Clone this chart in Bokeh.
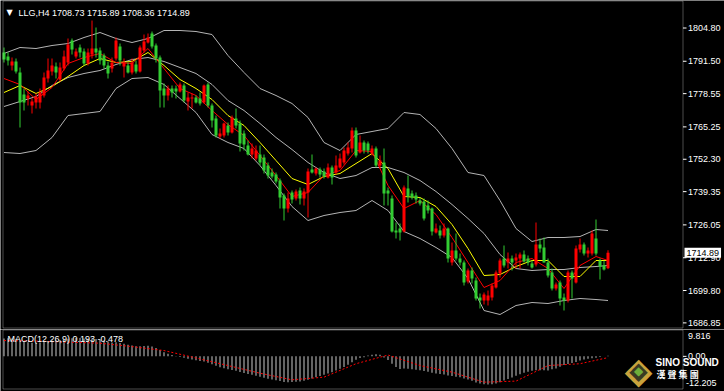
from bokeh.plotting import figure
from bokeh.layouts import column
from bokeh.models import Label, ColumnDataSource, Range1d, BoxAnnotation
from bokeh.embed import file_html
from bokeh.resources import INLINE
from bokeh.core.properties import value

# ---------------- data ----------------
symbol = "LLG,H4"
last_ohlc = ["1708.73", "1715.89", "1708.36", "1714.89"]

opens = [1795.0, 1793.4, 1789.8, 1791.4, 1787.0, 1778.2, 1776.6, 1773.8, 1775.0, 1775.0,
         1777.8, 1784.6, 1787.4, 1789.4, 1784.2, 1788.6, 1791.0, 1799.8, 1793.4, 1797.0,
         1795.4, 1790.6, 1794.2, 1796.6, 1795.8, 1793.8, 1789.8, 1788.6, 1792.6, 1797.4,
         1789.4, 1789.8, 1787.0, 1790.2, 1787.4, 1795.8, 1799.0, 1802.6, 1797.8, 1793.0,
         1780.6, 1777.8, 1780.6, 1780.6, 1779.4, 1781.8, 1775.4, 1776.6, 1777.0, 1776.6,
         1775.0, 1782.2, 1773.8, 1768.6, 1761.4, 1761.8, 1765.8, 1763.0, 1768.6, 1766.6,
         1762.6, 1757.8, 1754.2, 1752.6, 1754.2, 1753.0, 1749.8, 1747.0, 1746.2, 1743.8,
         1737.8, 1732.6, 1739.0, 1736.6, 1739.8, 1736.6, 1739.0, 1748.2, 1746.6, 1748.2,
         1747.4, 1745.0, 1749.0, 1747.0, 1749.0, 1751.0, 1754.6, 1756.6, 1763.8, 1755.0,
         1759.0, 1758.6, 1754.6, 1756.6, 1749.8, 1751.0, 1739.8, 1736.6, 1723.8, 1724.6,
         1723.4, 1740.6, 1738.6, 1737.8, 1735.8, 1735.4, 1733.8, 1732.6, 1723.0, 1723.8,
         1721.8, 1724.6, 1711.0, 1715.8, 1712.6, 1711.0, 1703.4, 1707.8, 1703.8, 1697.0,
         1695.8, 1695.8, 1697.0, 1701.0, 1706.6, 1712.6, 1711.0, 1712.6, 1711.8, 1712.6,
         1714.2, 1712.6, 1710.6, 1710.2, 1718.2, 1717.0, 1711.0, 1707.0, 1700.6, 1703.0,
         1697.0, 1695.8, 1707.0, 1703.0, 1716.2, 1718.2, 1714.6, 1714.6, 1720.6, 1711.8,
         1709.8, 1708.73]
highs = [1797.0, 1795.0, 1793.0, 1792.6, 1789.0, 1780.6, 1779.4, 1776.6, 1778.6, 1780.6,
         1787.0, 1792.6, 1792.6, 1791.0, 1791.0, 1795.8, 1800.6, 1800.6, 1796.6, 1798.2,
         1796.6, 1796.6, 1807.8, 1805.0, 1797.0, 1794.6, 1791.4, 1793.0, 1801.0, 1798.6,
         1792.6, 1791.0, 1792.6, 1791.8, 1797.8, 1802.2, 1802.6, 1803.4, 1798.6, 1793.8,
         1782.6, 1781.8, 1781.8, 1781.8, 1783.0, 1782.6, 1779.0, 1778.6, 1777.8, 1779.0,
         1782.2, 1783.0, 1774.6, 1769.8, 1764.6, 1767.0, 1767.0, 1769.8, 1772.6, 1767.8,
         1763.8, 1759.8, 1758.6, 1757.8, 1757.8, 1754.2, 1751.0, 1748.6, 1747.0, 1744.6,
         1738.6, 1739.0, 1739.8, 1740.2, 1741.0, 1740.6, 1748.6, 1754.2, 1749.0, 1749.0,
         1748.6, 1750.6, 1749.8, 1753.8, 1754.6, 1757.0, 1759.0, 1765.0, 1765.0, 1761.8,
         1759.8, 1759.4, 1757.8, 1757.4, 1753.8, 1756.6, 1741.0, 1737.8, 1727.0, 1726.6,
         1741.8, 1745.8, 1739.8, 1739.0, 1737.0, 1736.6, 1735.8, 1733.0, 1726.6, 1725.8,
         1726.6, 1725.0, 1719.0, 1722.6, 1714.6, 1711.8, 1708.6, 1709.0, 1705.0, 1698.6,
         1699.0, 1699.8, 1702.6, 1707.8, 1712.6, 1717.8, 1715.0, 1713.8, 1714.6, 1715.0,
         1715.8, 1713.8, 1711.8, 1727.0, 1720.6, 1721.0, 1712.6, 1708.6, 1703.0, 1703.8,
         1698.6, 1707.8, 1707.8, 1717.8, 1720.6, 1719.0, 1717.0, 1723.8, 1728.2, 1712.6,
         1711.8, 1715.89]
lows = [1791.0, 1789.8, 1787.8, 1786.6, 1765.0, 1771.8, 1773.8, 1770.6, 1772.6, 1772.6,
        1777.0, 1783.0, 1785.8, 1784.6, 1783.4, 1787.8, 1789.8, 1794.2, 1792.6, 1793.0,
        1789.8, 1789.8, 1792.6, 1793.0, 1790.2, 1788.6, 1784.6, 1787.0, 1791.8, 1789.8,
        1785.0, 1786.6, 1786.2, 1786.6, 1787.0, 1795.0, 1798.6, 1796.6, 1791.0, 1773.0,
        1773.0, 1775.8, 1777.0, 1776.6, 1779.0, 1775.0, 1771.8, 1772.6, 1774.6, 1773.8,
        1774.6, 1773.0, 1765.0, 1761.0, 1760.6, 1761.0, 1761.8, 1762.6, 1764.6, 1755.4,
        1755.8, 1753.8, 1752.6, 1751.8, 1749.8, 1746.6, 1744.6, 1744.6, 1742.6, 1732.6,
        1727.8, 1731.0, 1734.6, 1735.8, 1734.2, 1733.8, 1729.0, 1746.6, 1745.8, 1745.0,
        1744.6, 1744.6, 1742.2, 1746.2, 1748.6, 1750.2, 1753.8, 1755.0, 1753.0, 1754.6,
        1754.6, 1754.6, 1753.8, 1749.0, 1748.6, 1733.8, 1733.8, 1723.0, 1720.6, 1719.8,
        1723.0, 1735.0, 1736.2, 1734.6, 1733.8, 1727.8, 1730.6, 1721.8, 1722.6, 1720.6,
        1721.0, 1711.0, 1709.8, 1711.8, 1709.8, 1701.8, 1702.6, 1702.6, 1695.8, 1692.6,
        1694.2, 1693.8, 1695.8, 1700.6, 1705.0, 1709.0, 1708.6, 1707.8, 1708.6, 1708.6,
        1711.0, 1709.8, 1708.6, 1709.4, 1715.0, 1711.0, 1705.0, 1699.8, 1699.8, 1693.8,
        1691.8, 1695.0, 1696.6, 1702.6, 1715.0, 1713.8, 1713.0, 1713.8, 1713.8, 1704.2,
        1707.8, 1708.36]
closes = [1792.2, 1791.8, 1791.4, 1787.4, 1775.0, 1775.0, 1777.8, 1775.4, 1777.4, 1779.0,
          1785.0, 1787.8, 1789.8, 1787.0, 1789.0, 1793.4, 1798.2, 1796.2, 1795.4, 1795.0,
          1790.6, 1795.0, 1796.6, 1795.0, 1791.8, 1789.8, 1786.6, 1791.0, 1799.8, 1791.8,
          1791.0, 1787.0, 1791.0, 1787.4, 1797.0, 1799.4, 1801.0, 1797.4, 1792.6, 1779.8,
          1777.8, 1780.6, 1779.0, 1779.4, 1782.2, 1775.8, 1777.0, 1777.0, 1775.0, 1774.6,
          1781.8, 1773.8, 1767.8, 1761.8, 1762.6, 1766.6, 1763.0, 1769.0, 1765.8, 1758.6,
          1758.2, 1754.2, 1756.6, 1755.8, 1751.0, 1747.8, 1745.8, 1745.4, 1743.4, 1737.0,
          1732.6, 1736.6, 1736.2, 1739.4, 1736.6, 1739.4, 1747.4, 1747.0, 1748.6, 1746.2,
          1745.4, 1749.0, 1745.0, 1749.8, 1752.6, 1755.8, 1757.0, 1763.8, 1753.8, 1759.0,
          1755.8, 1755.8, 1756.6, 1749.8, 1751.8, 1738.6, 1738.6, 1723.4, 1723.0, 1723.0,
          1741.0, 1737.4, 1737.0, 1736.2, 1734.6, 1728.6, 1731.8, 1723.4, 1724.6, 1721.8,
          1724.6, 1712.6, 1715.8, 1712.6, 1711.0, 1703.0, 1707.8, 1704.6, 1696.6, 1695.8,
          1698.2, 1697.8, 1701.8, 1707.0, 1711.8, 1709.8, 1712.6, 1711.0, 1713.0, 1714.2,
          1711.4, 1711.0, 1709.0, 1718.2, 1716.6, 1711.0, 1705.8, 1700.6, 1702.2, 1696.6,
          1695.8, 1707.0, 1704.6, 1716.6, 1718.2, 1714.6, 1715.8, 1722.6, 1714.6, 1709.4,
          1708.2, 1714.89]

# indicator lines, read at every 4th bar (and the last bar)
ind_idx = [0, 4, 8, 12, 16, 20, 24, 28, 32, 36, 40, 44, 48, 52, 56, 60, 64, 68, 72, 76,
           80, 84, 88, 92, 96, 100, 104, 108, 112, 116, 120, 124, 128, 132, 136, 140, 144, 148, 151]
bb_upper = [1794.6, 1797.0, 1796.6, 1797.8, 1798.6, 1801.0, 1803.0, 1800.6, 1799.0, 1800.6,
            1803.8, 1803.8, 1803.4, 1802.2, 1793.8, 1787.0, 1780.6, 1777.8, 1774.6, 1769.0,
            1759.0, 1755.8, 1762.2, 1763.4, 1764.6, 1771.0, 1770.2, 1764.6, 1756.6, 1747.0,
            1745.8, 1735.8, 1724.6, 1719.4, 1721.0, 1721.0, 1721.4, 1724.2, 1723.8]
bb_middle = [1773.4, 1775.4, 1777.4, 1781.8, 1785.0, 1786.6, 1787.8, 1790.2, 1792.2, 1793.0,
             1791.4, 1789.0, 1786.6, 1782.2, 1775.8, 1771.8, 1766.6, 1761.0, 1756.2, 1751.0,
             1747.0, 1744.6, 1745.8, 1749.0, 1749.0, 1747.0, 1743.8, 1739.4, 1734.2, 1728.6,
             1722.6, 1714.2, 1708.6, 1707.8, 1708.2, 1708.2, 1709.0, 1709.4, 1709.8]
bb_lower = [1755.0, 1754.6, 1755.8, 1761.0, 1769.8, 1770.6, 1771.4, 1780.6, 1784.6, 1785.0,
            1782.2, 1776.6, 1771.0, 1762.2, 1759.0, 1756.6, 1749.8, 1741.8, 1733.4, 1727.8,
            1729.8, 1731.0, 1731.8, 1735.8, 1731.8, 1723.4, 1720.6, 1717.0, 1713.0, 1704.6,
            1691.8, 1690.2, 1693.8, 1695.0, 1694.6, 1695.8, 1696.6, 1696.2, 1695.8]
ma_yellow = [1779.0, 1781.8, 1778.6, 1781.4, 1785.4, 1789.8, 1792.6, 1791.0, 1791.4, 1795.0,
             1789.8, 1784.2, 1780.6, 1776.2, 1769.8, 1765.8, 1759.0, 1751.8, 1744.6, 1742.2,
             1745.4, 1746.6, 1750.6, 1754.6, 1748.6, 1737.4, 1737.0, 1733.4, 1726.2, 1716.6,
             1705.8, 1706.2, 1709.4, 1711.8, 1711.8, 1705.4, 1705.4, 1711.8, 1711.8]
ma_red = [1784.6, 1782.2, 1776.2, 1781.0, 1790.6, 1793.0, 1794.6, 1791.0, 1790.6, 1796.6,
          1788.6, 1780.6, 1777.8, 1771.8, 1766.2, 1761.8, 1753.8, 1745.8, 1737.4, 1739.0,
          1745.8, 1747.8, 1755.8, 1755.4, 1741.8, 1732.6, 1735.8, 1730.2, 1721.0, 1711.0,
          1701.0, 1703.8, 1711.0, 1712.6, 1708.6, 1700.6, 1709.8, 1713.4, 1711.8]

price_ticks = [1686.85, 1699.80, 1712.90, 1726.05, 1739.35, 1752.30, 1765.25, 1778.55, 1791.50, 1804.80]

macd_main = [6.8, 6.9, 6.8, 6.6, 6.0, 5.6, 5.4, 5.2, 5.2, 5.3,
             5.5, 5.8, 6.0, 6.1, 6.2, 6.4, 6.7, 6.9, 7.0, 7.0,
             6.8, 6.7, 6.7, 6.6, 6.3, 6.0, 5.6, 5.3, 5.4, 5.1,
             4.8, 4.4, 4.1, 3.8, 3.8, 3.9, 4.0, 3.7, 3.2, 2.4,
             1.6, 1.0, 0.5, 0.1, -0.2, -0.5, -0.9, -1.2, -1.5, -1.8,
             -2.0, -2.4, -3.0, -3.6, -4.1, -4.5, -4.9, -5.2, -5.5, -5.9,
             -6.3, -6.7, -7.0, -7.4, -7.7, -8.1, -8.5, -8.8, -9.1, -9.4,
             -9.7, -9.8, -9.7, -9.6, -9.5, -9.3, -8.9, -8.4, -7.9, -7.5,
             -7.0, -6.5, -6.0, -5.4, -4.7, -4.0, -3.2, -2.2, -1.3, -0.6,
             -0.3, 0.3, 0.6, 0.8, 0.6, -0.4, -1.4, -2.8, -4.0, -4.8,
             -4.6, -4.7, -4.9, -5.1, -5.3, -5.6, -5.8, -6.2, -6.5, -6.7,
             -6.9, -7.3, -7.5, -7.7, -7.9, -8.4, -8.8, -9.3, -9.9, -10.3,
             -10.6, -10.7, -10.6, -10.3, -9.8, -9.2, -8.6, -8.0, -7.4, -6.8,
             -6.2, -5.8, -5.5, -5.3, -5.3, -5.3, -5.4, -4.9, -4.6, -3.9,
             -3.3, -2.9, -2.5, -2.1, -1.6, -1.2, -0.9, -0.7, -0.5, -0.2,
             0.0, 0.193]
signal_idx = [0, 8, 16, 24, 32, 40, 48, 56, 64, 72, 80, 88, 96, 104, 112, 120, 128, 136, 144, 151]
macd_signal = [6.0, 5.8, 5.4, 5.0, 3.7, 2.2, -0.6, -3.5, -6.4, -8.9,
               -7.9, -2.8, 0.5, -3.5, -6.0, -9.8, -9.4, -3.5, -2.8, -0.478]
macd_ticks = [9.816, 0.0, -12.205]
macd_label = "MACD(12,26,9) 0.193 -0.478"

# ---------------- geometry ----------------
W, H_MAIN, H_MACD = 724, 329, 62
PX = 4.0                      # pixels per bar
X0 = -0.875
X1 = X0 + W / PX
PPU = 0.4                     # price units per pixel
Y_TOP = 1815.8
Y_BOT = Y_TOP - H_MAIN * PPU
M_PPU = (macd_ticks[0] - macd_ticks[2]) / 58.0
M_TOP = macd_ticks[0] + 1 * M_PPU
M_BOT = M_TOP - H_MACD * M_PPU
FONT = "Liberation Sans"
FS = "9px"
UP, DOWN = "#ff0000", "#32cd32"


def xd(px):
    return X0 + px / PX


def yd(py):
    return Y_TOP - py * PPU


def md(py):
    return M_TOP - py * M_PPU


AX = 682.5   # right edge of the chart panels (pixel)

n = len(closes)
idx = list(range(n))
src = ColumnDataSource(dict(
    x=idx, h=highs, l=lows,
    top=[max(o, c) for o, c in zip(opens, closes)],
    bot=[min(o, c) for o, c in zip(opens, closes)],
    color=[UP if c >= o else DOWN for o, c in zip(opens, closes)]))

p = figure(width=W, height=H_MAIN, output_backend="svg", toolbar_location=None,
           x_range=Range1d(X0, X1), y_range=Range1d(Y_BOT, Y_TOP),
           x_axis_location=None, y_axis_location=None,
           min_border=0, min_border_left=0, min_border_right=0,
           min_border_top=0, min_border_bottom=0,
           background_fill_color="black", border_fill_color="black",
           outline_line_color=None)
p.grid.visible = False

# Bollinger bands
for arr in (bb_upper, bb_middle, bb_lower):
    p.line(ind_idx, arr, line_color="#b4b4b4", line_width=1)
# moving averages
p.line(ind_idx, ma_yellow, line_color="#ffff00", line_width=1)
p.line(ind_idx, ma_red, line_color="#ff0000", line_width=1)
# candles
p.segment(x0="x", y0="l", x1="x", y1="h", line_color="color", line_width=1, source=src)
p.vbar(x="x", width=0.75, top="top", bottom="bot", fill_color="color", line_color=None,
       source=src)

# panel frame
p.add_layout(BoxAnnotation(left=xd(2.5), right=xd(AX), top=yd(0.5), bottom=yd(327.5),
                           fill_alpha=0, line_color="white", line_width=1))
# price scale on the right
p.segment(x0=[xd(AX)] * len(price_ticks), x1=[xd(AX + 3.5)] * len(price_ticks),
          y0=price_ticks, y1=price_ticks, line_color="white", line_width=1)
p.text(x=[xd(AX + 5)] * len(price_ticks), y=price_ticks,
       text=[f"{t:.2f}" for t in price_ticks], text_color="white",
       text_font=value(FONT), text_font_size=FS, text_baseline="middle")

# header
p.add_layout(Label(x=6, x_units="screen", y=yd(12), text="▼", text_color="white",
                   text_font="DejaVu Sans", text_font_size="8px", text_baseline="middle"))
p.add_layout(Label(x=18, x_units="screen", y=yd(12),
                   text=symbol + "  " + " ".join(last_ohlc), text_color="white",
                   text_font=FONT, text_font_size=FS, text_baseline="middle"))
# current price marker
p.add_layout(Label(x=684, x_units="screen", y=closes[-1], text=f"{closes[-1]:.2f}",
                   text_color="black", text_font=FONT, text_font_size=FS,
                   text_baseline="middle", background_fill_color="white",
                   padding=2))

# ---------------- MACD panel ----------------
q = figure(width=W, height=H_MACD, output_backend="svg", toolbar_location=None,
           x_range=p.x_range, y_range=Range1d(M_BOT, M_TOP),
           x_axis_location=None, y_axis_location=None,
           min_border=0, min_border_left=0, min_border_right=0,
           min_border_top=0, min_border_bottom=0,
           background_fill_color="black", border_fill_color="black",
           outline_line_color=None)
q.grid.visible = False

q.vbar(x=idx, width=0.25, top=macd_main, bottom=0, fill_color="#c8c8c8", line_color=None)
q.line(signal_idx, macd_signal, line_color="#ff0000", line_width=1, line_dash="2 2")

q.add_layout(BoxAnnotation(left=xd(2.5), right=xd(AX), top=md(0.5), bottom=md(59.5),
                           fill_alpha=0, line_color="white", line_width=1))
q.segment(x0=[xd(AX)], x1=[xd(AX + 3.5)], y0=[macd_ticks[1]], y1=[macd_ticks[1]],
          line_color="white", line_width=1)
q.text(x=[xd(AX + 5)], y=[macd_ticks[0]], text=[f"{macd_ticks[0]:.3f}"], text_color="white",
       text_font=value(FONT), text_font_size=FS, text_baseline="middle", y_offset=5)
q.text(x=[xd(AX + 5)], y=[macd_ticks[1]], text=[f"{macd_ticks[1]:.2f}"], text_color="white",
       text_font=value(FONT), text_font_size=FS, text_baseline="middle")
q.text(x=[xd(AX + 3)], y=[macd_ticks[2]], text=[f"{macd_ticks[2]:.3f}"], text_color="white",
       text_font=value(FONT), text_font_size=FS, text_baseline="middle", y_offset=-6)

q.add_layout(Label(x=7, x_units="screen", y=md(9), text=macd_label,
                   text_color="white", text_font=FONT, text_font_size=FS,
                   text_baseline="middle"))
# logo
q.add_layout(Label(x=638, x_units="screen", y=md(41), text="◆",
                   text_color="#c9a23c", text_font="DejaVu Sans", text_font_size="36px",
                   text_align="center", text_baseline="middle"))
q.add_layout(Label(x=638, x_units="screen", y=md(41), text="◆",
                   text_color="#3a3a22", text_font="DejaVu Sans", text_font_size="24px",
                   text_align="center", text_baseline="middle"))
q.add_layout(Label(x=638, x_units="screen", y=md(41), text="◆",
                   text_color="#6fae3a", text_font="DejaVu Sans", text_font_size="12px",
                   text_align="center", text_baseline="middle"))
q.add_layout(Label(x=655, x_units="screen", y=md(33), text="SINO SOUND",
                   text_color="white", text_font=FONT, text_font_size="10px",
                   text_font_style="bold", text_baseline="middle"))
q.add_layout(Label(x=656, x_units="screen", y=md(45), text="漢  聲  集  團",
                   text_color="white", text_font="Noto Sans CJK TC", text_font_size="9px",
                   text_font_style="bold", text_baseline="middle"))

layout = column(p, q, spacing=0)
open("out.html", "w").write(file_html(layout, INLINE))
